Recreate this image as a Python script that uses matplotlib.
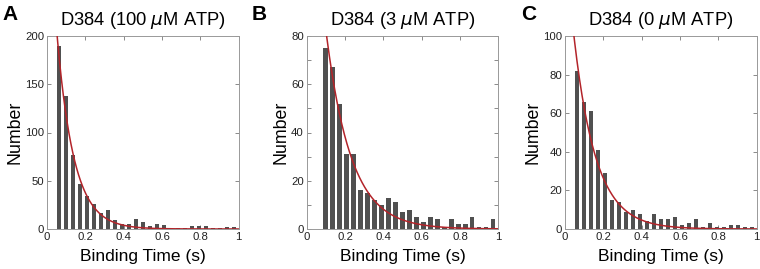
import numpy as np
import matplotlib.pyplot as plt
from matplotlib.ticker import MultipleLocator

plt.rcParams['font.family'] = ['Liberation Sans', 'DejaVu Sans']

# histogram counts (bin width ~0.0365 s)
bin_w = 0.0365
start_a = 0.062
counts_a = [190, 138, 77, 47, 34, 26, 17, 20, 9, 5, 5, 10, 7, 3, 5, 4,
            1, 1, 1, 3, 3, 3, 1, 1, 2, 2]
start_b = 0.098
counts_b = [75, 67, 52, 31, 31, 16, 15, 12, 10, 13, 11, 7, 8, 5, 3, 5,
            4, 1, 4, 2, 2, 5, 1, 1, 4]
start_c = 0.064
counts_c = [82, 66, 61, 41, 29, 15, 14, 9, 10, 8, 4, 8, 5, 5, 6, 2, 3,
            5, 1, 3, 1, 1, 2, 2, 1, 1]

# single exponential fits: amplitude, tau (s)
fit_a = (365, 0.088)
fit_b = (178, 0.13)
fit_c = (150, 0.115)

titles = ['D384 (100 $\\mathit{\\mu}$M ATP)', 'D384 (3 $\\mathit{\\mu}$M ATP)',
          'D384 (0 $\\mathit{\\mu}$M ATP)']
letters = ['A', 'B', 'C']
ymax = [200, 80, 100]
ystep = [50, 20, 20]
yminor = [50, 10, 20]

fig = plt.figure(figsize=(7.6, 2.69), dpi=100)
lefts = [47 / 760, 306.7 / 760, 565 / 760]
letter_x = [2 / 760, 252 / 760, 521 / 760]
panels = [(start_a, counts_a, fit_a), (start_b, counts_b, fit_b),
          (start_c, counts_c, fit_c)]

for i, (st, cnt, fit) in enumerate(panels):
    ax = fig.add_axes([lefts[i], 40 / 269, 191.6 / 760, 193 / 269])
    centers = st + bin_w * np.arange(len(cnt))
    ax.bar(centers, cnt, width=0.0225, color='#505050', zorder=2)
    t = np.linspace(0.02, 1, 300)
    ax.plot(t, fit[0] * np.exp(-t / fit[1]), color='#b3242a', lw=1.1, zorder=3)
    ax.set_xlim(0, 1)
    ax.set_ylim(0, ymax[i])
    ax.set_xticks([0, 0.2, 0.4, 0.6, 0.8, 1])
    ax.set_xticklabels(['0', '0.2', '0.4', '0.6', '0.8', '1'])
    ax.yaxis.set_major_locator(MultipleLocator(ystep[i]))
    ax.yaxis.set_minor_locator(MultipleLocator(yminor[i]))
    ax.tick_params(which='both', direction='in', top=True, right=True,
                   length=3, width=0.6, color='#777777', labelsize=8.2,
                   labelcolor='#222222', pad=2)
    for s in ax.spines.values():
        s.set_color('#999999')
        s.set_linewidth(0.7)
    ax.set_xlabel('Binding Time (s)', fontsize=12.5, labelpad=5)
    ax.set_ylabel('Number', fontsize=12.8, labelpad=1)
    ax.set_title(titles[i], fontsize=13.2, pad=8)
    fig.text(letter_x[i], 1 - 5 / 269, letters[i], fontsize=15,
             fontweight='bold', ha='left', va='top')

fig.savefig('out.png', dpi=100)
